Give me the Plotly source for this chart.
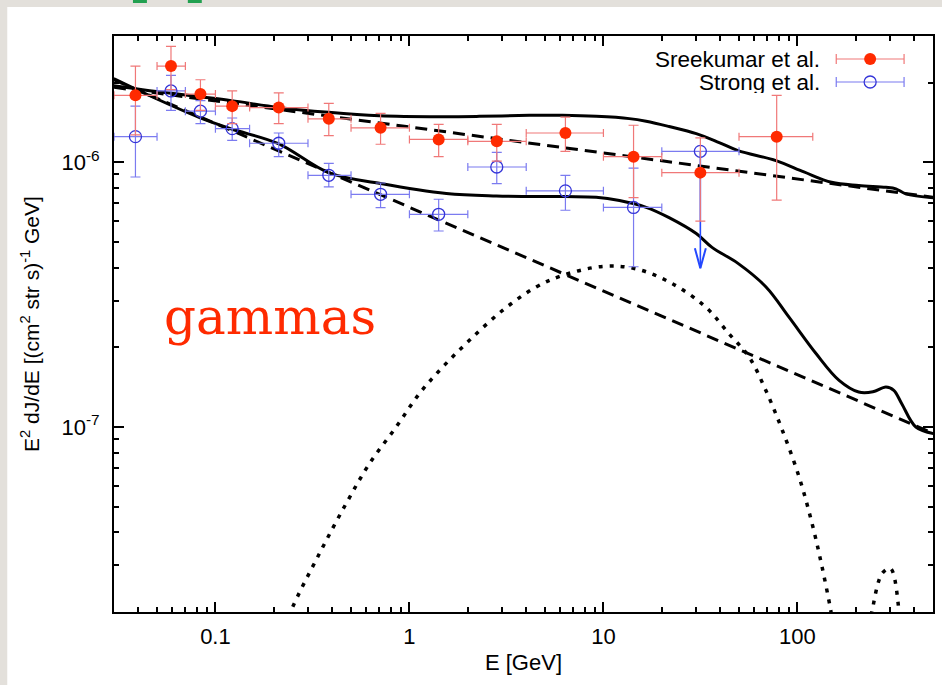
import numpy as np
import plotly.graph_objects as go

# ---------------- data ----------------
# Sreekumar et al. (EGRET) -- filled red circles
sree_E = [0.0387, 0.059, 0.0837, 0.122, 0.212, 0.384, 0.71, 1.415, 2.82, 6.37, 14.3, 31.6, 78.2]
sree_Elo = [0.03, 0.05, 0.07, 0.1, 0.15, 0.3, 0.5, 1.0, 2.0, 4.0, 10.0, 20.0, 50.0]
sree_Ehi = [0.05, 0.07, 0.1, 0.15, 0.3, 0.5, 1.0, 2.0, 4.0, 10.0, 20.0, 50.0, 120.0]
sree_F = [1.79e-6, 2.31e-6, 1.81e-6, 1.63e-6, 1.61e-6, 1.46e-6, 1.35e-6, 1.22e-6, 1.20e-6, 1.29e-6, 1.05e-6, 9.14e-7, 1.25e-6]
sree_Fhi = [2.31e-6, 2.74e-6, 2.05e-6, 1.86e-6, 1.83e-6, 1.67e-6, 1.53e-6, 1.39e-6, 1.39e-6, 1.48e-6, 1.38e-6, 1.236e-6, 1.79e-6]
sree_Flo = [1.27e-6, 1.88e-6, 1.57e-6, 1.40e-6, 1.40e-6, 1.26e-6, 1.17e-6, 1.05e-6, 1.01e-6, 1.10e-6, 7.36e-7, 5.99e-7, 7.19e-7]

# Strong et al. -- open blue circles
strong_E = [0.0387, 0.059, 0.0837, 0.122, 0.212, 0.384, 0.71, 1.415, 2.82, 6.37, 14.3]
strong_Elo = [0.03, 0.05, 0.07, 0.1, 0.15, 0.3, 0.5, 1.0, 2.0, 4.0, 10.0]
strong_Ehi = [0.05, 0.07, 0.1, 0.15, 0.3, 0.5, 1.0, 2.0, 4.0, 10.0, 20.0]
strong_F = [1.25e-6, 1.86e-6, 1.56e-6, 1.34e-6, 1.18e-6, 8.93e-7, 7.57e-7, 6.36e-7, 9.6e-7, 7.8e-7, 6.75e-7]
strong_Fhi = [1.63e-6, 2.13e-6, 1.71e-6, 1.47e-6, 1.29e-6, 9.9e-7, 8.35e-7, 7.25e-7, 1.09e-6, 8.93e-7, 9.5e-7]
strong_Flo = [8.8e-7, 1.57e-6, 1.40e-6, 1.21e-6, 1.05e-6, 8.07e-7, 6.74e-7, 5.5e-7, 8.3e-7, 6.59e-7, 4.03e-7]
# Strong et al. upper limit
ul_E = [31.6]
ul_Elo = [20.0]
ul_Ehi = [50.0]
ul_F = [1.10e-6]
ul_tip = [3.98e-7]

# power-law backgrounds (dashed)
bkg_E = [0.03, 500.0]
bkg_sree = [1.92e-6, 7.38e-7]
bkg_strong = [2.05e-6, 9.47e-8]

# total = background + dark matter (solid)
tot_sree_E = [0.0299, 0.0458, 0.0829, 0.121, 0.2113, 0.383, 0.700, 1.425, 2.29, 4.15, 6.14, 9.18,
              13.6, 16.6, 21.8, 30.1, 39.5, 49.4, 77.5, 108, 150, 207, 286, 322, 362, 506]
tot_sree_F = [1.947e-6, 1.865e-6, 1.77e-6, 1.71e-6, 1.612e-6, 1.545e-6, 1.50e-6, 1.487e-6, 1.491e-6,
              1.504e-6, 1.504e-6, 1.491e-6, 1.462e-6, 1.429e-6, 1.365e-6, 1.283e-6, 1.187e-6, 1.107e-6,
              1.015e-6, 9.2e-7, 8.4e-7, 8.17e-7, 8.05e-7, 7.94e-7, 7.6e-7, 7.34e-7]
tot_strong_E = [0.0299, 0.0458, 0.0829, 0.121, 0.211, 0.383, 0.710, 1.55, 2.81, 6.36, 9.18, 12.1, 16.6,
                21.8, 30.1, 36.3, 49.4, 68.9, 90.5, 125, 164, 207, 245, 286, 314, 345, 408, 506]
tot_strong_F = [2.07e-6, 1.785e-6, 1.475e-6, 1.336e-6, 1.176e-6, 9.14e-7, 8.31e-7, 7.62e-7, 7.46e-7,
                7.42e-7, 7.38e-7, 7.17e-7, 6.76e-7, 6.18e-7, 5.38e-7, 4.77e-7, 4.15e-7, 3.38e-7,
                2.60e-7, 1.89e-7, 1.50e-7, 1.355e-7, 1.358e-7, 1.416e-7, 1.376e-7, 1.225e-7, 1.0e-7, 9.44e-8]

# dark-matter gamma signal (dotted)
dm_E = [0.22, 0.246, 0.344, 0.472, 0.622, 0.854, 1.126, 1.484, 2.037, 3.02, 4.49, 6.15, 9.9, 14.7,
        22.7, 33.7, 44.4, 56.4, 68.7, 83.6, 102, 119, 134, 148.5, 152.5, 200, 236, 243, 273.6, 302,
        333.6, 337, 400]
dm_F = [1.6e-8, 2.03e-8, 3.33e-8, 5.14e-8, 7.27e-8, 1.0e-7, 1.337e-7, 1.684e-7, 2.125e-7, 2.757e-7,
        3.376e-7, 3.736e-7, 4.04e-7, 3.96e-7, 3.476e-7, 2.836e-7, 2.25e-7, 1.837e-7, 1.376e-7,
        9.72e-8, 6.48e-8, 4.32e-8, 2.96e-8, 2.03e-8, 1.79e-8, 1.0e-8, 1.79e-8, 2.03e-8, 2.80e-8,
        2.92e-8, 2.03e-8, 1.79e-8, 1.0e-8]

# axes
x_range = [0.03, 500.0]
y_range = [2e-8, 3e-6]
x_tickvals = [0.1, 1, 10, 100]
x_ticktext = ["0.1", "1", "10", "100"]
y_tickvals = [1e-7, 1e-6]
y_ticktext = ["10<sup>-7</sup>", "10<sup>-6</sup>"]
x_minor = [m * 10.0 ** d for d in range(-2, 3) for m in range(2, 10)]
y_minor = [m * 10.0 ** d for d in range(-8, -5) for m in range(2, 10)]

legend_names = ["Sreekumar et al.", "Strong et al."]
label_text = "gammas"

# ---------------- styles ----------------
RED = "#ff2a00"
RED_BAR = "#f07878"
BLUE = "#3535d8"
BLUE_BAR = "#7b7bf0"
ARROW = "#2448ff"
FONT = "Liberation Sans, Arial, sans-serif"
MARBLE = "#e3e0db"

# plot area in pixels
L, R, T, B = 114, 935, 36, 612
W, H = 942, 685

fig = go.Figure()

# curves
fig.add_trace(go.Scatter(x=bkg_E, y=bkg_sree, mode="lines",
                         line=dict(color="black", width=3, dash="12px,7px"), showlegend=False))
fig.add_trace(go.Scatter(x=bkg_E, y=bkg_strong, mode="lines",
                         line=dict(color="black", width=3, dash="12px,7px"), showlegend=False))
fig.add_trace(go.Scatter(x=dm_E, y=dm_F, mode="lines",
                         line=dict(color="black", width=3.5, dash="4px,7px", shape="spline"),
                         showlegend=False))
fig.add_trace(go.Scatter(x=tot_sree_E, y=tot_sree_F, mode="lines",
                         line=dict(color="black", width=3, shape="spline"), showlegend=False))
fig.add_trace(go.Scatter(x=tot_strong_E, y=tot_strong_F, mode="lines",
                         line=dict(color="black", width=3, shape="spline"), showlegend=False))

def d(a, b):
    return [float(x - y) for x, y in zip(a, b)]

# Strong et al. data
fig.add_trace(go.Scatter(
    x=strong_E, y=strong_F, mode="markers", showlegend=False,
    marker=dict(symbol="circle-open", size=12, color=BLUE, line=dict(width=1.3, color=BLUE)),
    error_x=dict(type="data", symmetric=False, array=d(strong_Ehi, strong_E),
                 arrayminus=d(strong_E, strong_Elo), color=BLUE_BAR, thickness=1.2, width=4),
    error_y=dict(type="data", symmetric=False, array=d(strong_Fhi, strong_F),
                 arrayminus=d(strong_F, strong_Flo), color=BLUE_BAR, thickness=1.2, width=5),
))
# upper limit point
fig.add_trace(go.Scatter(
    x=ul_E, y=ul_F, mode="markers", showlegend=False,
    marker=dict(symbol="circle-open", size=12, color=BLUE, line=dict(width=1.3, color=BLUE)),
    error_x=dict(type="data", symmetric=False, array=d(ul_Ehi, ul_E),
                 arrayminus=d(ul_E, ul_Elo), color=BLUE_BAR, thickness=1.2, width=4),
    error_y=dict(type="data", symmetric=False, array=[0.0],
                 arrayminus=d(ul_F, ul_tip), color=ARROW, thickness=1.6, width=0),
))
# arrow head (open V) at the limit tip
hw, hh = 10 ** (5.5 / 194.2), 10 ** (20 / 265.0)
fig.add_trace(go.Scatter(
    x=[ul_E[0] / hw, ul_E[0], ul_E[0] * hw], y=[ul_tip[0] * hh, ul_tip[0], ul_tip[0] * hh],
    mode="lines", line=dict(color=ARROW, width=2), showlegend=False))

# Sreekumar et al. data
fig.add_trace(go.Scatter(
    x=sree_E, y=sree_F, mode="markers", showlegend=False,
    marker=dict(symbol="circle", size=12, color=RED, line=dict(width=0)),
    error_x=dict(type="data", symmetric=False, array=d(sree_Ehi, sree_E),
                 arrayminus=d(sree_E, sree_Elo), color=RED_BAR, thickness=1.2, width=4),
    error_y=dict(type="data", symmetric=False, array=d(sree_Fhi, sree_F),
                 arrayminus=d(sree_F, sree_Flo), color=RED_BAR, thickness=1.2, width=5),
))

# legend samples on a pixel-coordinate overlay axis
leg_y = [59, 82]
fig.add_trace(go.Scatter(
    x=[872], y=[leg_y[0]], xaxis="x2", yaxis="y2", mode="markers", showlegend=False,
    marker=dict(symbol="circle", size=12, color=RED),
    error_x=dict(type="constant", value=34, color=RED_BAR, thickness=1.2, width=5)))
fig.add_trace(go.Scatter(
    x=[872], y=[leg_y[1]], xaxis="x2", yaxis="y2", mode="markers", showlegend=False,
    marker=dict(symbol="circle-open", size=12, color=BLUE, line=dict(width=1.3, color=BLUE)),
    error_x=dict(type="constant", value=34, color=BLUE_BAR, thickness=1.2, width=5)))

annotations = []
for name, yy in zip(legend_names, leg_y):
    annotations.append(dict(x=823, y=yy, xref="x2", yref="y2", text=name, showarrow=False,
                            xanchor="right", yanchor="middle", height=22, borderpad=0,
                            font=dict(family=FONT, size=22.5, color="black")))
annotations.append(dict(x=270, y=317, xref="x2", yref="y2", text=label_text, showarrow=False,
                        xanchor="center", yanchor="middle",
                        font=dict(family="DejaVu Serif, serif", size=50, color="#ff2a00")))

def px2paper_x(px):
    return (px - L) / (R - L)

def px2paper_y(py):
    return (B - py) / (B - T)

shapes = [
    # marble strips (top and left) around the white slide panel
    dict(type="rect", xref="paper", yref="paper", layer="below",
         x0=px2paper_x(-10), x1=px2paper_x(W + 10), y0=px2paper_y(7), y1=px2paper_y(-10),
         fillcolor=MARBLE, line=dict(width=0)),
    dict(type="rect", xref="paper", yref="paper", layer="below",
         x0=px2paper_x(-10), x1=px2paper_x(7), y0=px2paper_y(H + 10), y1=px2paper_y(-10),
         fillcolor=MARBLE, line=dict(width=0)),
    dict(type="rect", xref="paper", yref="paper", layer="below",
         x0=px2paper_x(133), x1=px2paper_x(147), y0=px2paper_y(3), y1=px2paper_y(-2),
         fillcolor="#22a050", line=dict(width=0)),
    dict(type="rect", xref="paper", yref="paper", layer="below",
         x0=px2paper_x(188), x1=px2paper_x(202), y0=px2paper_y(3), y1=px2paper_y(-2),
         fillcolor="#22a050", line=dict(width=0)),
]

axis_common = dict(
    showline=True, linecolor="black", linewidth=2, mirror="ticks",
    ticks="inside", ticklen=10, tickwidth=1.5, tickcolor="black",
    showgrid=False, zeroline=False,
    tickfont=dict(family=FONT, size=22, color="black"),
)

fig.update_layout(
    width=W, height=H, autosize=False,
    margin=dict(l=L, r=W - R, t=T, b=H - B, pad=0),
    paper_bgcolor="white", plot_bgcolor="white",
    showlegend=False,
    xaxis=dict(type="log", range=[np.log10(x_range[0]), np.log10(x_range[1])],
               tickmode="array", tickvals=x_tickvals, ticktext=x_ticktext,
               minor=dict(tickmode="array", tickvals=x_minor, ticks="inside", ticklen=5,
                          tickwidth=1.5, tickcolor="black", showgrid=False),
               ticklabelstandoff=4,
               title=dict(text="E [GeV]", font=dict(family=FONT, size=22, color="black"), standoff=6),
               **axis_common),
    yaxis=dict(type="log", range=[np.log10(y_range[0]), np.log10(y_range[1])],
               tickmode="array", tickvals=y_tickvals, ticktext=y_ticktext,
               minor=dict(tickmode="array", tickvals=y_minor, ticks="inside", ticklen=5,
                          tickwidth=1.5, tickcolor="black", showgrid=False),
               ticklabelstandoff=8,
               title=dict(text="E<sup>2</sup> dJ/dE [(cm<sup>2</sup> str s)<sup>-1</sup> GeV]",
                          font=dict(family=FONT, size=21, color="black"), standoff=16),
               **axis_common),
    xaxis2=dict(overlaying="x", range=[L, R], visible=False, fixedrange=True),
    yaxis2=dict(overlaying="y", range=[B, T], visible=False, fixedrange=True),
    annotations=annotations,
    shapes=shapes,
)

fig.write_html("out.html")
